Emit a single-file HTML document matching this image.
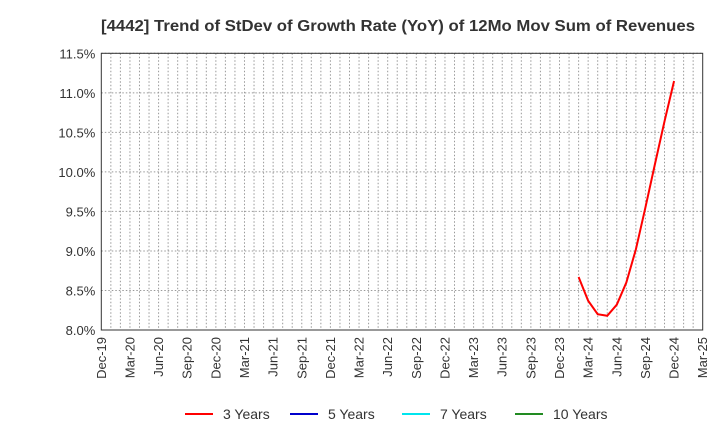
<!DOCTYPE html>
<html><head><meta charset="utf-8"><style>
body{margin:0;background:#fff;}
svg text{font-family:"Liberation Sans",sans-serif;}
</style></head><body>
<svg id="chart" width="720" height="440" xmlns="http://www.w3.org/2000/svg">
<text x="101" y="31" font-size="16" font-weight="bold" fill="#333" textLength="594" lengthAdjust="spacingAndGlyphs">[4442]  Trend of StDev of Growth Rate (YoY) of 12Mo Mov Sum of Revenues</text>
<g id="grid"></g>
<g id="yticks"></g>
<g id="xticks"></g>
<rect x="101.3" y="53.3" width="601.4" height="276.7" fill="none" stroke="#333" stroke-width="1"/>
<g id="series"></g>
<g>
<line x1="185" y1="414" x2="213" y2="414" stroke="#ff0000" stroke-width="2"/>
<text x="223" y="419" font-size="14" fill="#333">3 Years</text>
<line x1="290" y1="414" x2="318" y2="414" stroke="#0000cc" stroke-width="2"/>
<text x="328" y="419" font-size="14" fill="#333">5 Years</text>
<line x1="402" y1="414" x2="430" y2="414" stroke="#00e5ee" stroke-width="2"/>
<text x="440" y="419" font-size="14" fill="#333">7 Years</text>
<line x1="515" y1="414" x2="543" y2="414" stroke="#228b22" stroke-width="2"/>
<text x="553" y="419" font-size="14" fill="#333">10 Years</text>
</g>
</svg>
<script>
const xLabels=["Dec-19","Mar-20","Jun-20","Sep-20","Dec-20","Mar-21","Jun-21","Sep-21","Dec-21","Mar-22","Jun-22","Sep-22","Dec-22","Mar-23","Jun-23","Sep-23","Dec-23","Mar-24","Jun-24","Sep-24","Dec-24","Mar-25"];
const yTicks=[8.0,8.5,9.0,9.5,10.0,10.5,11.0,11.5];
const months3=[50,51,52,53,54,55,56,57,58,59,60];
const values3=[8.67,8.37,8.20,8.18,8.32,8.60,9.02,9.55,10.10,10.64,11.15];
const L=101.3,R=702.7,T=53.3,B=330,NM=63;
const xs=m=>L+(R-L)*m/NM;
const ys=v=>B-(v-8)/3.5*(B-T);
const NS="http://www.w3.org/2000/svg";
function mk(tag,attrs,parent){const e=document.createElementNS(NS,tag);for(const k in attrs)e.setAttribute(k,attrs[k]);parent.appendChild(e);return e;}
const grid=document.getElementById('grid'),yt=document.getElementById('yticks'),xt=document.getElementById('xticks'),ser=document.getElementById('series');
for(let m=1;m<NM;m++){const l=mk('line',{x1:xs(m),x2:xs(m),y1:T,y2:B,stroke:'#999','stroke-dasharray':'1.5,2','stroke-width':1},grid);

}
yTicks.forEach(v=>{const l=mk('line',{x1:L,x2:R,y1:ys(v),y2:ys(v),stroke:'#999','stroke-dasharray':'1.5,2','stroke-width':1},grid);


const t=mk('text',{x:L-6,y:ys(v)+5,'font-size':13,'text-anchor':'end',fill:'#333'},yt);t.textContent=v.toFixed(1)+'%';

});
xLabels.forEach((s,i)=>{const x=xs(i*3);const t=mk('text',{x:0,y:0,'font-size':13,'text-anchor':'end',fill:'#333',transform:`translate(${x+4.5},337) rotate(-90)`},xt);t.textContent=s;

});
const p=mk('polyline',{points:months3.map((m,i)=>xs(m)+','+ys(values3[i])).join(' '),fill:'none',stroke:'#ff0000','stroke-width':2},ser);


</script>
</body></html>
